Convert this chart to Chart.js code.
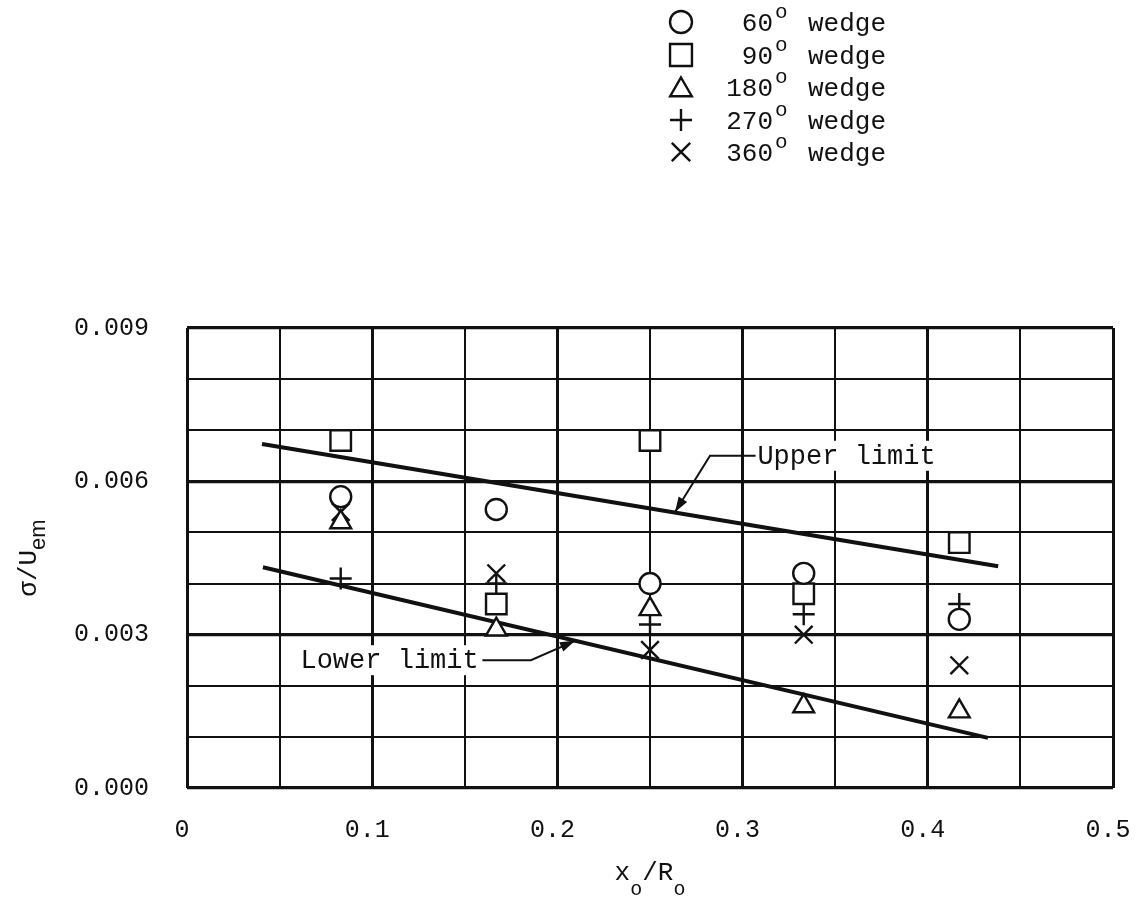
<!DOCTYPE html>
<html>
<head>
<meta charset="utf-8">
<style>
  html, body { margin: 0; padding: 0; background: #fff; }
  #wrap { width: 1142px; height: 909px; position: relative; }
</style>
<script src="https://cdn.jsdelivr.net/npm/chart.js@4.4.1/dist/chart.umd.min.js"></script>
</head>
<body>
<div id="wrap"><canvas id="c" width="1142" height="909"></canvas></div>
<script>
// Measuring stations x_o/R_o
const stations = [0.083, 0.167, 0.25, 0.333, 0.417];

// sigma/U_em for each wedge angle
const wedge60  = [0.0057, 0.00545, 0.0040, 0.0042, 0.0033];
const wedge90  = [0.0068, 0.0036, 0.0068, 0.0038, 0.0048];
const wedge180 = [0.0052, 0.0031, 0.0035, 0.0016, 0.0015];
const wedge270 = [0.0041, 0.0040, 0.0032, 0.0034, 0.0036];
const wedge360 = [0.0054, 0.0042, 0.0027, 0.0030, 0.0024];

// Limit lines (end points)
const upperLimitX = [0.0405, 0.438];
const upperLimitY = [0.00673, 0.00434];
const lowerLimitX = [0.041, 0.4325];
const lowerLimitY = [0.00432, 0.00098];

// Axis tick labels and legend angles
const xTickLabels = ['0', '0.1', '0.2', '0.3', '0.4', '0.5'];
const yTickLabels = ['0.000', '0.003', '0.006', '0.009'];
const wedgeAngles = ['60', '90', '180', '270', '360'];

const MONO = '"Liberation Mono", "DejaVu Sans Mono", monospace';
const INK = '#111';

function pairs(xs, ys) { return xs.map((x, i) => ({ x: x, y: ys[i] })); }

function marker(style, radius, filled) {
  return {
    pointStyle: style,
    pointRadius: radius,
    pointHoverRadius: radius,
    pointBorderWidth: 2.4,
    pointBorderColor: INK,
    pointBackgroundColor: filled ? '#fff' : 'rgba(0,0,0,0)',
    showLine: false,
    order: 1
  };
}

function limitLine(label, xs, ys) {
  return {
    label: label,
    type: 'line',
    data: pairs(xs, ys),
    borderColor: INK,
    borderWidth: 4,
    pointRadius: 0,
    fill: false,
    tension: 0,
    order: 5
  };
}

// Leader lines with arrows pointing at the limit lines
const callouts = [
  { text: 'Upper limit', align: 'left',  at: [0.308, 0.0065],
    path: [[0.307, 0.0065], [0.2824, 0.0065], [0.2635, 0.0054]] },
  { text: 'Lower limit', align: 'right', at: [0.1575, 0.0025],
    path: [[0.1595, 0.0025], [0.1857, 0.0025], [0.2095, 0.00288]] }
];

function arrowHead(ctx, from, to, len, half) {
  const a = Math.atan2(to.y - from.y, to.x - from.x);
  const bx = to.x - len * Math.cos(a), by = to.y - len * Math.sin(a);
  ctx.beginPath();
  ctx.moveTo(to.x, to.y);
  ctx.lineTo(bx + half * Math.sin(a), by - half * Math.cos(a));
  ctx.lineTo(bx - half * Math.sin(a), by + half * Math.cos(a));
  ctx.closePath();
  ctx.fill();
}

const paperExtras = {
  id: 'paperExtras',
  afterDatasetsDraw(chart) {
    const ctx = chart.ctx, xs = chart.scales.x, ys = chart.scales.y;
    ctx.save();
    ctx.font = '27px ' + MONO;
    ctx.textBaseline = 'middle';
    callouts.forEach(c => {
      const tx = xs.getPixelForValue(c.at[0]);
      const ty = ys.getPixelForValue(c.at[1]);
      const w = ctx.measureText(c.text).width;
      const left = c.align === 'left' ? tx : tx - w;
      ctx.fillStyle = '#fff';
      ctx.fillRect(left - 3, ty - 15, w + 6, 30);
      ctx.fillStyle = INK;
      ctx.textAlign = c.align;
      ctx.fillText(c.text, tx, ty + 1);
      const pts = c.path.map(p => ({ x: xs.getPixelForValue(p[0]), y: ys.getPixelForValue(p[1]) }));
      ctx.strokeStyle = INK;
      ctx.lineWidth = 2;
      ctx.beginPath();
      pts.forEach((p, i) => i ? ctx.lineTo(p.x, p.y) : ctx.moveTo(p.x, p.y));
      ctx.stroke();
      arrowHead(ctx, pts[pts.length - 2], pts[pts.length - 1], 15, 5);
    });
    ctx.restore();
  },
  afterDraw(chart) {
    const ctx = chart.ctx, area = chart.chartArea;
    ctx.save();
    ctx.fillStyle = INK;
    ctx.strokeStyle = INK;

    // Legend: symbol, angle with degree mark, "wedge"
    const rowY = [22, 55, 87, 120, 152];
    chart.data.datasets.slice(0, 5).forEach((ds, i) => {
      const y = rowY[i];
      ctx.lineWidth = 2.4;
      ctx.fillStyle = '#fff';
      ctx.strokeStyle = INK;
      const r = ds.pointStyle === 'rect' ? 15.5 : ds.pointStyle === 'crossRot' ? 13 : ds.pointStyle === 'triangle' ? 12.5 : 11;
      Chart.helpers.drawPoint(ctx, { pointStyle: ds.pointStyle, radius: r, rotation: 0, borderWidth: 2.4 }, 681, ds.pointStyle === 'triangle' ? y + 3 : y);
      ctx.fillStyle = INK;
      ctx.textBaseline = 'alphabetic';
      ctx.font = '26px ' + MONO;
      ctx.textAlign = 'right';
      ctx.fillText(wedgeAngles[i], 773, y + 9);
      ctx.font = '21px ' + MONO;
      ctx.textAlign = 'left';
      ctx.fillText('o', 775, y - 4);
      ctx.font = '26px ' + MONO;
      ctx.fillText('wedge', 808, y + 9);
    });

    // x-axis title: x_o / R_o
    const cx = (area.left + area.right) / 2;
    const base = area.bottom + 92;
    const big = '26px ' + MONO, small = '20px ' + MONO;
    const parts = [['x', big, 0], ['o', small, 15], ['/R', big, 0], ['o', small, 15]];
    let total = 0;
    parts.forEach(p => { ctx.font = p[1]; total += ctx.measureText(p[0]).width; });
    let px = cx - total / 2;
    ctx.textAlign = 'left';
    ctx.textBaseline = 'alphabetic';
    parts.forEach(p => { ctx.font = p[1]; ctx.fillText(p[0], px, base + p[2]); px += ctx.measureText(p[0]).width; });

    // y-axis title: sigma / U_em (rotated)
    ctx.translate(36, (area.top + area.bottom) / 2);
    ctx.rotate(-Math.PI / 2);
    const yParts = [['σ/U', '26px ' + MONO, 0], ['em', '22px "Liberation Sans", Arial, sans-serif', 9]];
    total = 0;
    yParts.forEach(p => { ctx.font = p[1]; total += ctx.measureText(p[0]).width; });
    px = -total / 2;
    yParts.forEach(p => { ctx.font = p[1]; ctx.fillText(p[0], px, p[2]); px += ctx.measureText(p[0]).width; });
    ctx.restore();
  }
};

new Chart(document.getElementById('c'), {
  type: 'scatter',
  data: {
    datasets: [
      Object.assign({ label: '60° wedge',  data: pairs(stations, wedge60)  }, marker('circle', 10.5, true)),
      Object.assign({ label: '90° wedge',  data: pairs(stations, wedge90)  }, marker('rect', 14.5, true)),
      Object.assign({ label: '180° wedge', data: pairs(stations, wedge180) }, marker('triangle', 12, true)),
      Object.assign({ label: '270° wedge', data: pairs(stations, wedge270) }, marker('cross', 11, false)),
      Object.assign({ label: '360° wedge', data: pairs(stations, wedge360) }, marker('crossRot', 12.5, false)),
      limitLine('Upper limit', upperLimitX, upperLimitY),
      limitLine('Lower limit', lowerLimitX, lowerLimitY)
    ]
  },
  options: {
    responsive: false,
    devicePixelRatio: 1,
    animation: false,
    layout: { padding: { left: 0, top: 328, right: 29, bottom: 0 } },
    plugins: { legend: { display: false }, tooltip: { enabled: false } },
    scales: {
      x: {
        type: 'linear', min: 0, max: 0.5,
        ticks: {
          stepSize: 0.05, autoSkip: false, maxRotation: 0, padding: 27, labelOffset: -5,
          color: INK, font: { family: MONO, size: 25 },
          callback: (v, i) => (i % 2 === 0 ? xTickLabels[i / 2] : '')
        },
        grid: { color: INK, lineWidth: c => (c.index % 2 === 0 ? 3 : 2), drawTicks: false },
        border: { display: false },
        afterFit: s => { s.height = 121; s.paddingLeft = 0; s.paddingRight = 0; }
      },
      y: {
        type: 'linear', min: 0, max: 0.009,
        ticks: {
          stepSize: 0.001, autoSkip: false, padding: 38,
          color: INK, font: { family: MONO, size: 25 },
          callback: (v, i) => (i % 3 === 0 ? yTickLabels[i / 3] : '')
        },
        grid: { color: INK, lineWidth: c => (c.index % 3 === 0 ? 3.2 : 2), drawTicks: false },
        border: { display: false },
        afterFit: s => { s.width = 187; }
      }
    }
  },
  plugins: [paperExtras]
});
</script>
</body>
</html>
